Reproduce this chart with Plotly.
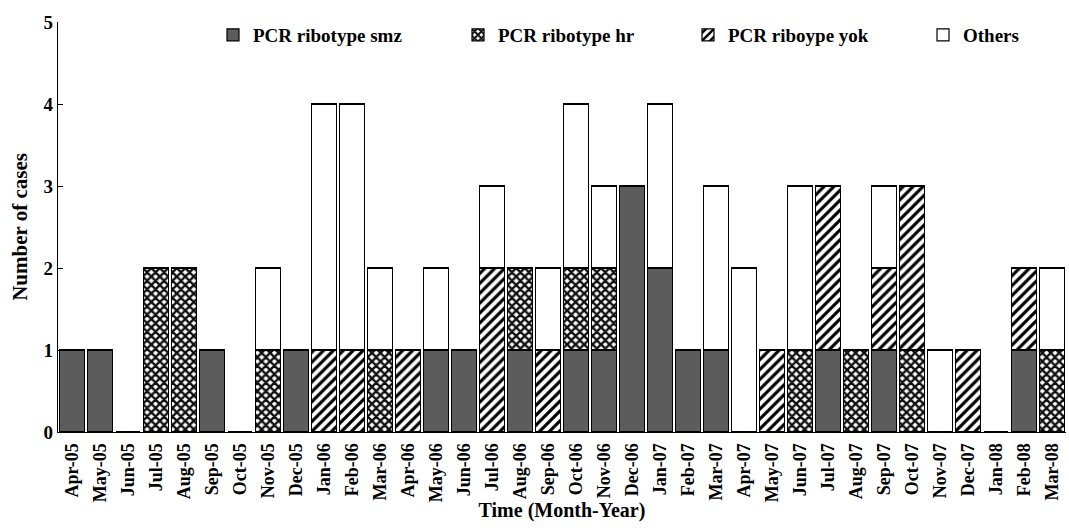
import plotly.graph_objects as go

months = ["Apr-05","May-05","Jun-05","Jul-05","Aug-05","Sep-05","Oct-05","Nov-05","Dec-05",
          "Jan-06","Feb-06","Mar-06","Apr-06","May-06","Jun-06","Jul-06","Aug-06","Sep-06",
          "Oct-06","Nov-06","Dec-06","Jan-07","Feb-07","Mar-07","Apr-07","May-07","Jun-07",
          "Jul-07","Aug-07","Sep-07","Oct-07","Nov-07","Dec-07","Jan-08","Feb-08","Mar-08"]

smz    = [1,1,0,0,0,1,0,0,1, 0,0,0,0,1,1,0,1,0, 1,1,3,2,1,1,0,0,0, 1,0,1,0,0,0,0,1,0]
hr     = [0,0,0,2,2,0,0,1,0, 0,0,1,0,0,0,0,1,0, 1,1,0,0,0,0,0,0,1, 0,1,0,1,0,0,0,0,1]
yok    = [0,0,0,0,0,0,0,0,0, 1,1,0,1,0,0,2,0,1, 0,0,0,0,0,0,0,1,0, 2,0,1,2,0,1,0,1,0]
others = [0,0,0,0,0,0,0,1,0, 3,3,1,0,1,0,1,0,1, 2,1,0,2,0,2,2,0,2, 0,0,1,0,1,0,0,0,1]

names = ["PCR ribotype smz", "PCR ribotype hr", "PCR riboype yok", "Others"]

FONT = "Liberation Serif"
line = dict(color="black", width=1.2)

fig = go.Figure()
fig.add_trace(go.Bar(x=months, y=smz, name=names[0], legend="legend", showlegend=True,
                     marker=dict(color="#5c5c5c", line=line)))
fig.add_trace(go.Bar(x=months, y=hr, name=names[1], legend="legend2", showlegend=True,
                     marker=dict(color="white", line=line,
                                 pattern=dict(shape="x", fgcolor="#111111", bgcolor="white",
                                              size=6, solidity=0.65, fillmode="replace"))))
fig.add_trace(go.Bar(x=months, y=yok, name=names[2], legend="legend3", showlegend=True,
                     marker=dict(color="white", line=line,
                                 pattern=dict(shape="/", fgcolor="black", bgcolor="white",
                                              size=7, solidity=0.45, fillmode="replace"))))
fig.add_trace(go.Bar(x=months, y=others, name=names[3], legend="legend4", showlegend=True,
                     marker=dict(color="white", line=line)))

L, R, T, B = 58, 3, 22, 96
W = 1069 - L - R
H = 528 - T - B

def leg(px):
    return dict(x=(px - L) / W, y=1.0 + 6 / H, xanchor="left", yanchor="top",
                orientation="h", bgcolor="rgba(0,0,0,0)",
                font=dict(family=FONT, size=19, color="black", weight="bold"))

fig.update_layout(
    showlegend=True,
    barmode="stack",
    bargap=0.12,
    width=1069, height=528,
    margin=dict(l=L, r=R, t=T, b=B),
    paper_bgcolor="white", plot_bgcolor="white",
    font=dict(family=FONT, size=18, color="black"),
    legend=leg(213),
    legend2=leg(458),
    legend3=leg(688),
    legend4=leg(923),
    xaxis=dict(type="category", range=[-0.5, 35.5], showline=True, linecolor="black",
               linewidth=1.2, ticks="", tickangle=-90, automargin=False,
               ticklabelstandoff=3,
               tickfont=dict(family=FONT, size=18, weight="bold"),
               title=dict(text="Time (Month-Year)", standoff=0,
                          font=dict(family=FONT, size=20, weight="bold"))),
    yaxis=dict(range=[0, 5], dtick=1, showline=True, linecolor="black", linewidth=1.2,
               ticks="inside", ticklen=5, tickcolor="black", showgrid=False, zeroline=False,
               automargin=False,
               tickfont=dict(family=FONT, size=19, weight="bold"),
               title=dict(text="Number of cases", standoff=10,
                          font=dict(family=FONT, size=21, weight="bold"))),
)

fig.write_html("out.html", config={"displayModeBar": False},
               post_script="document.body.style.margin='0';")
